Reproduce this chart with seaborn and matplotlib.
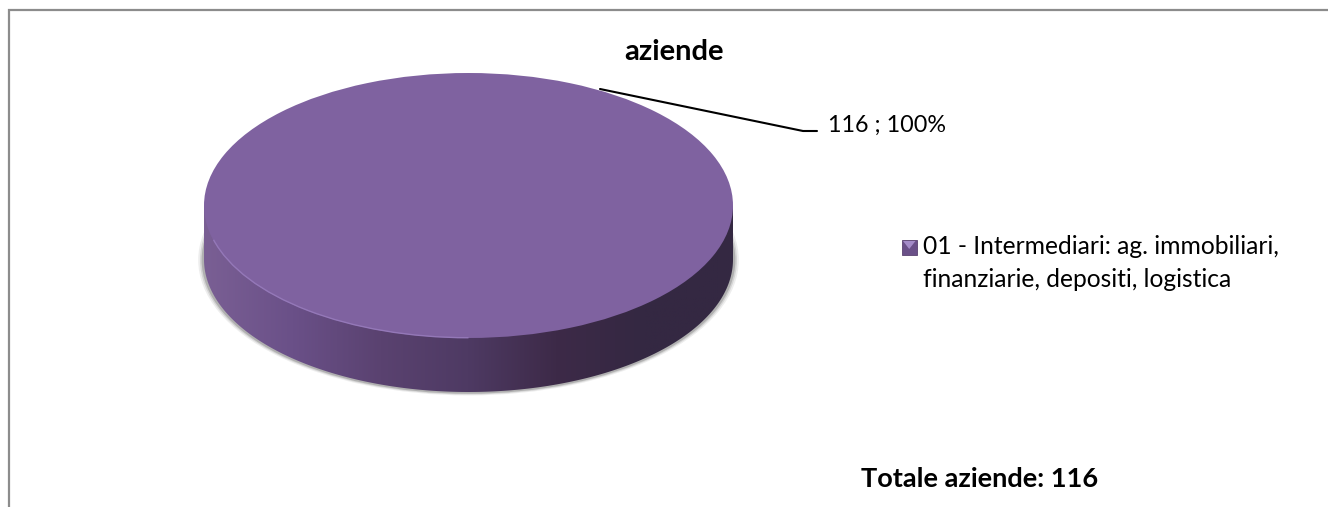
import matplotlib
matplotlib.use("Agg")
import matplotlib.pyplot as plt
import seaborn as sns
import numpy as np
from matplotlib.colors import LinearSegmentedColormap
from matplotlib.patches import Arc, PathPatch, Rectangle
from matplotlib.path import Path

categories = ["01 - Intermediari: ag. immobiliari,\nfinanziarie, depositi, logistica"]
values = [116]
chart_title = "aziende"
total_label = "Totale aziende: 116"
data_label = "116 ; 100%"

W, H = 1328, 507
TOP_COLOR = "#7F62A0"
SIDE_COLORS = ["#7A5F94", "#6A5088", "#5A4270", "#4E3A63", "#3D2A48", "#342842", "#342842"]

sns.set_theme(style="white")
plt.rcParams["font.family"] = ["Lato", "DejaVu Sans"]

fig = plt.figure(figsize=(W / 100, H / 100), dpi=100, facecolor="white")


def box(x0, y0, x1, y1):
    return [x0 / W, 1 - y1 / H, (x1 - x0) / W, (y1 - y0) / H]


# chart frame, only top and left are visible
bg = fig.add_axes([0, 0, 1, 1], zorder=0)
bg.set_xlim(0, W)
bg.set_ylim(H, 0)
bg.axis("off")
bg.plot([9, 9, W], [H, 10, 10], color="#8C8C8C", lw=1.6, solid_joinstyle="miter")

# pie axes: top face spans 204..733 px and 73..338 px
cx, cy, rx, ry = 468.5, 205.5, 264.5, 132.5
depth = 54 / ry
ax = fig.add_axes(box(cx - rx - 10, cy - ry - 5, cx + rx + 10, cy + ry + 70), zorder=1)

# soft shadow under the disc
for grow, alpha in [(0.022, 0.10), (0.015, 0.16), (0.009, 0.28)]:
    ax.pie(values, radius=1 + grow, center=(0, -depth - 0.004), colors=["#555555"],
           wedgeprops={"alpha": alpha, "linewidth": 0})

# side wall: horizontal gradient clipped to the extruded shape
top, _ = ax.pie(values, colors=[TOP_COLOR], wedgeprops={"linewidth": 0, "zorder": 5})
side_cmap = LinearSegmentedColormap.from_list("side", SIDE_COLORS)
grad = ax.imshow(np.linspace(0, 1, 256).reshape(1, -1), cmap=side_cmap, aspect="auto",
                 extent=(-1, 1, -1 - depth, 0), zorder=3)
t = np.linspace(np.pi, 2 * np.pi, 200)
outline = np.column_stack([np.cos(t), np.sin(t) - depth])
outline = np.vstack([[-1, 0], outline, [1, 0], [-1, 0]])
grad.set_clip_path(PathPatch(Path(outline, closed=True), transform=ax.transData))

# pale rim along the lower left edge of the top face
ax.add_patch(Arc((0, 0), 1.996, 1.996, theta1=195, theta2=270, color="#9478B8", lw=1.0, zorder=6))

ax.set_aspect("auto")
ax.set_xlim(-1 - 10 / rx, 1 + 10 / rx)
ax.set_ylim(-1 - 70 / ry, 1 + 5 / ry)

# overlay for text, leader line and legend, in pixels
over = fig.add_axes([0, 0, 1, 1], zorder=2)
over.set_xlim(0, W)
over.set_ylim(H, 0)
over.axis("off")

over.text(674, 60, chart_title, ha="center", va="baseline", fontsize=21, fontweight="bold", color="black")
over.plot([600, 803, 817], [89, 131, 131], color="black", lw=1.5)
over.text(828, 132, data_label, ha="left", va="baseline", fontsize=16.8, color="black")
over.text(861, 487, total_label, ha="left", va="baseline", fontsize=19.5, fontweight="bold", color="black")

# legend marker and text
over.add_patch(Rectangle((901.5, 239.5), 15.5, 15, facecolor="#6A5088", edgecolor="#5A4270", lw=0.6))
over.fill([903, 915.5, 909.2], [241, 241, 249], color="#A48CC8", lw=0)
for line, baseline in zip(categories[0].split("\n"), [254, 287]):
    over.text(923, baseline, line, ha="left", va="baseline", fontsize=17.7, color="black")

fig.savefig("out.png", dpi=100)
